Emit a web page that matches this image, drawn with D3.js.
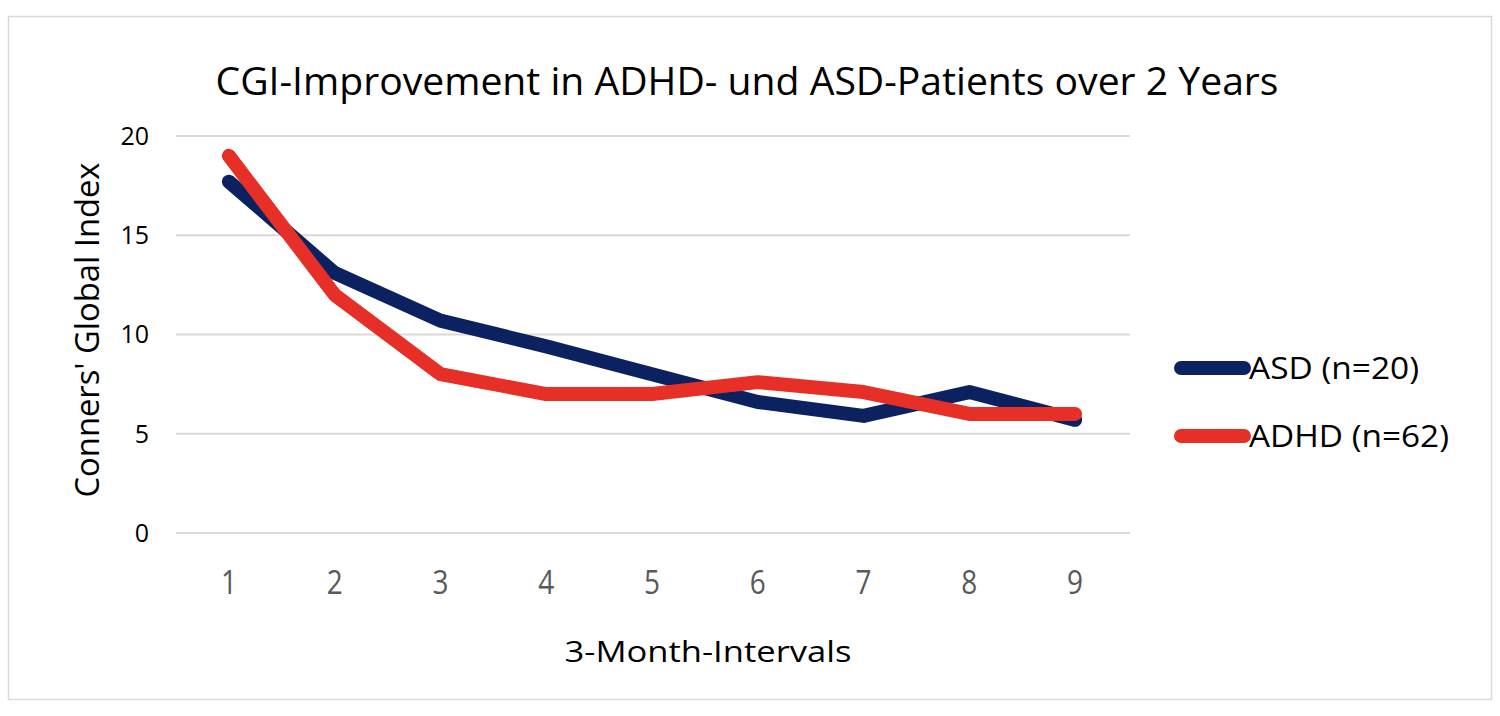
<!DOCTYPE html>
<html><head><meta charset="utf-8">
<script src="https://cdn.jsdelivr.net/npm/d3@7"></script>
<style>html,body{margin:0;padding:0;background:#fff;}svg{display:block;font-family:"Open Sans",sans-serif;}</style>
</head><body>
<svg id="chart" width="1500" height="716"></svg>
<script>
const categories = ["1","2","3","4","5","6","7","8","9"];
const asdValues  = [17.7, 13.1, 10.7, 9.4, 8.0, 6.6, 5.9, 7.1, 5.7];
const adhdValues = [19.0, 12.0, 8.0, 7.0, 7.0, 7.6, 7.1, 6.0, 6.0];
const yTicks = [0, 5, 10, 15, 20];
const seriesNames = ["ASD (n=20)", "ADHD (n=62)"];
const seriesColors = ["#0b2160", "#e63027"];
const titleText = "CGI-Improvement in ADHD- und ASD-Patients over 2 Years";
const xTitle = "3-Month-Intervals";
const yTitle = "Conners' Global Index";

const svg = d3.select("#chart");
svg.append("rect").attr("x",8.5).attr("y",16.5).attr("width",1483).attr("height",683)
  .attr("fill","#fff").attr("stroke","#d9d9d9").attr("stroke-width",1.5);

const x = d3.scaleBand().domain(categories).range([176,1128]);
const y = d3.scaleLinear().domain([0,20]).range([533,136]);

// gridlines
svg.append("g").selectAll("line").data(yTicks).join("line")
  .attr("x1",176).attr("x2",1130)
  .attr("y1",d=>y(d)).attr("y2",d=>y(d))
  .attr("stroke","#d9d9d9").attr("stroke-width",2);

// y tick labels
svg.append("g").selectAll("text").data(yTicks).join("text")
  .attr("x",149).attr("y",d=>y(d)).attr("dy","0.35em")
  .attr("text-anchor","end").attr("font-size",25).attr("fill","#000")
  .text(d=>d);

// x tick labels
svg.append("g").selectAll("text").data(categories).join("text")
  .attr("x",d=>x(d)+x.bandwidth()/2).attr("y",583).attr("dy","0.35em")
  .attr("text-anchor","middle").attr("font-size",32).attr("fill","#595959")
  .attr("textLength",16).attr("lengthAdjust","spacingAndGlyphs")
  .text(d=>d);

const line = d3.line().x((d,i)=>x(categories[i])+x.bandwidth()/2).y(d=>y(d));
[asdValues, adhdValues].forEach((vals,k)=>{
  svg.append("path").datum(vals).attr("d",line)
    .attr("fill","none").attr("stroke",seriesColors[k]).attr("stroke-width",14)
    .attr("stroke-linejoin","round").attr("stroke-linecap","round");
});

// title
svg.append("text").attr("x",747).attr("y",95).attr("text-anchor","middle")
  .attr("font-size",39).attr("fill","#000")
  .attr("textLength",1063).attr("lengthAdjust","spacingAndGlyphs").text(titleText);

// axis titles
svg.append("text").attr("x",708).attr("y",662).attr("text-anchor","middle")
  .attr("font-size",30).attr("fill","#000")
  .attr("textLength",287).attr("lengthAdjust","spacingAndGlyphs").text(xTitle);
svg.append("text").attr("transform","translate(99,330) rotate(-90)").attr("text-anchor","middle")
  .attr("font-size",32).attr("fill","#000")
  .attr("textLength",335).attr("lengthAdjust","spacingAndGlyphs").text(yTitle);

// legend
const legY = [368, 436];
const legW = [170, 200];
seriesNames.forEach((n,k)=>{
  svg.append("line").attr("x1",1181).attr("x2",1244).attr("y1",legY[k]).attr("y2",legY[k])
    .attr("stroke",seriesColors[k]).attr("stroke-width",14).attr("stroke-linecap","round");
  svg.append("text").attr("x",1249).attr("y",legY[k]).attr("dy","0.35em")
    .attr("font-size",31).attr("fill","#000")
    .attr("textLength",legW[k]).attr("lengthAdjust","spacingAndGlyphs").text(n);
});
</script>
</body></html>
